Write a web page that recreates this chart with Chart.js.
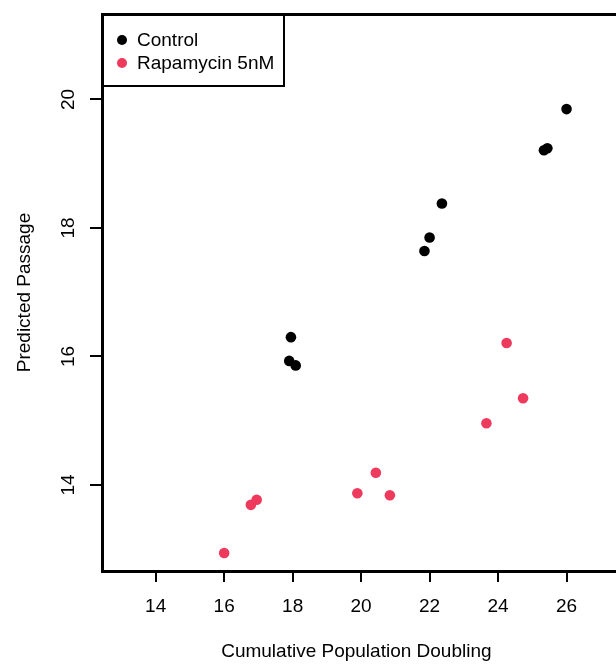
<!DOCTYPE html>
<html>
<head>
<meta charset="utf-8">
<script src="https://cdn.jsdelivr.net/npm/chart.js@4"></script>
<style>
  html, body { margin: 0; padding: 0; background: #fff; overflow: hidden; }
  canvas { display: block; }
</style>
</head>
<body>
<canvas id="chart" width="616" height="664"></canvas>
<script>
// tick labels
const xTicks = [14, 16, 18, 20, 22, 24, 26];
const yTicks = [14, 16, 18, 20];

// series
const controlX = [17.95, 17.90, 18.09, 22.36, 22.00, 21.85, 26.00, 25.34, 25.44];
const controlY = [16.30, 15.93, 15.86, 18.38, 17.85, 17.64, 19.85, 19.21, 19.24];
const rapaX = [16.00, 16.78, 16.95, 19.89, 20.43, 20.84, 24.25, 24.73, 23.66];
const rapaY = [12.94, 13.69, 13.77, 13.87, 14.19, 13.84, 16.21, 15.35, 14.96];

const seriesNames = ['Control', 'Rapamycin 5nM'];
const seriesColors = ['#000000', '#EE3A5C'];

const FONT = 'Liberation Sans, Arial, Helvetica, sans-serif';

function toPoints(xs, ys) {
  return xs.map((x, i) => ({ x: x, y: ys[i] }));
}

// same snapping Chart.js uses for its own lines
function align(p, w) {
  return Math.round(p - w / 2) + w / 2;
}

// frame, legend and rotated y labels, R style
const frameAndLegend = {
  id: 'frameAndLegend',
  afterDraw(chart) {
    const ctx = chart.ctx;
    const area = chart.chartArea;
    const yScale = chart.scales.y;
    const left = align(area.left, 3);
    const top = align(area.top, 3);
    const bottom = align(area.bottom, 3);

    ctx.save();
    // top border and bottom axis, both run off the right edge
    ctx.strokeStyle = '#000';
    ctx.lineWidth = 3;
    ctx.lineCap = 'butt';
    ctx.beginPath();
    ctx.moveTo(left - 1.5, top);
    ctx.lineTo(chart.width + 2, top);
    ctx.moveTo(left - 1.5, bottom);
    ctx.lineTo(chart.width + 2, bottom);
    ctx.stroke();

    // y tick labels, rotated
    ctx.fillStyle = '#000';
    ctx.font = '19px ' + FONT;
    ctx.textAlign = 'center';
    ctx.textBaseline = 'middle';
    yTicks.forEach(v => {
      const py = yScale.getPixelForValue(v);
      ctx.save();
      ctx.translate(68, py);
      ctx.rotate(-Math.PI / 2);
      ctx.fillText(String(v), 0, 1);
      ctx.restore();
    });

    // legend box
    const boxRight = 284, boxBottom = 86;
    ctx.lineWidth = 2;
    ctx.beginPath();
    ctx.moveTo(left, boxBottom);
    ctx.lineTo(boxRight, boxBottom);
    ctx.lineTo(boxRight, top);
    ctx.stroke();

    ctx.textAlign = 'left';
    seriesNames.forEach((name, i) => {
      const cy = 40 + i * 23;
      ctx.fillStyle = seriesColors[i];
      ctx.beginPath();
      ctx.arc(122, cy, 5, 0, Math.PI * 2);
      ctx.fill();
      ctx.fillStyle = '#000';
      ctx.fillText(name, 137, cy + 1);
    });
    ctx.restore();
  }
};

new Chart(document.getElementById('chart'), {
  type: 'scatter',
  data: {
    datasets: [
      {
        label: seriesNames[0],
        data: toPoints(controlX, controlY),
        backgroundColor: seriesColors[0],
        borderColor: seriesColors[0],
        pointRadius: 5.3,
        borderWidth: 0
      },
      {
        label: seriesNames[1],
        data: toPoints(rapaX, rapaY),
        backgroundColor: seriesColors[1],
        borderColor: seriesColors[1],
        pointRadius: 5.3,
        borderWidth: 0
      }
    ]
  },
  options: {
    responsive: false,
    animation: false,
    devicePixelRatio: 1,
    layout: { padding: { top: 14, right: 0, left: 0, bottom: 0 } },
    plugins: {
      legend: { display: false },
      tooltip: { enabled: false }
    },
    scales: {
      x: {
        type: 'linear',
        min: 12.432,
        max: 27.29,
        afterBuildTicks: scale => { scale.ticks = xTicks.map(v => ({ value: v })); },
        afterFit: scale => {
          scale.height = 93;
          scale.paddingLeft = 0;
          scale.paddingRight = 0;
        },
        grid: {
          drawOnChartArea: false,
          drawTicks: true,
          tickLength: 11,
          tickColor: '#000',
          lineWidth: 2
        },
        border: { display: false },
        ticks: {
          color: '#000',
          font: { family: FONT, size: 19 },
          padding: 13,
          maxRotation: 0
        },
        title: {
          display: true,
          text: 'Cumulative Population Doubling',
          color: '#000',
          font: { family: FONT, size: 19 },
          padding: { top: 0, bottom: 1 }
        }
      },
      y: {
        type: 'linear',
        min: 12.66,
        max: 21.33,
        afterBuildTicks: scale => { scale.ticks = yTicks.map(v => ({ value: v })); },
        afterFit: scale => {
          scale.width = 102;
          scale.paddingTop = 0;
          scale.paddingBottom = 0;
        },
        grid: {
          drawOnChartArea: false,
          drawTicks: true,
          tickLength: 12,
          tickColor: '#000',
          lineWidth: 2
        },
        border: { display: true, color: '#000', width: 3 },
        ticks: { display: false },
        title: {
          display: true,
          text: 'Predicted Passage',
          color: '#000',
          font: { family: FONT, size: 19 },
          padding: { top: 13, bottom: 0 }
        }
      }
    }
  },
  plugins: [frameAndLegend]
});
</script>
</body>
</html>
